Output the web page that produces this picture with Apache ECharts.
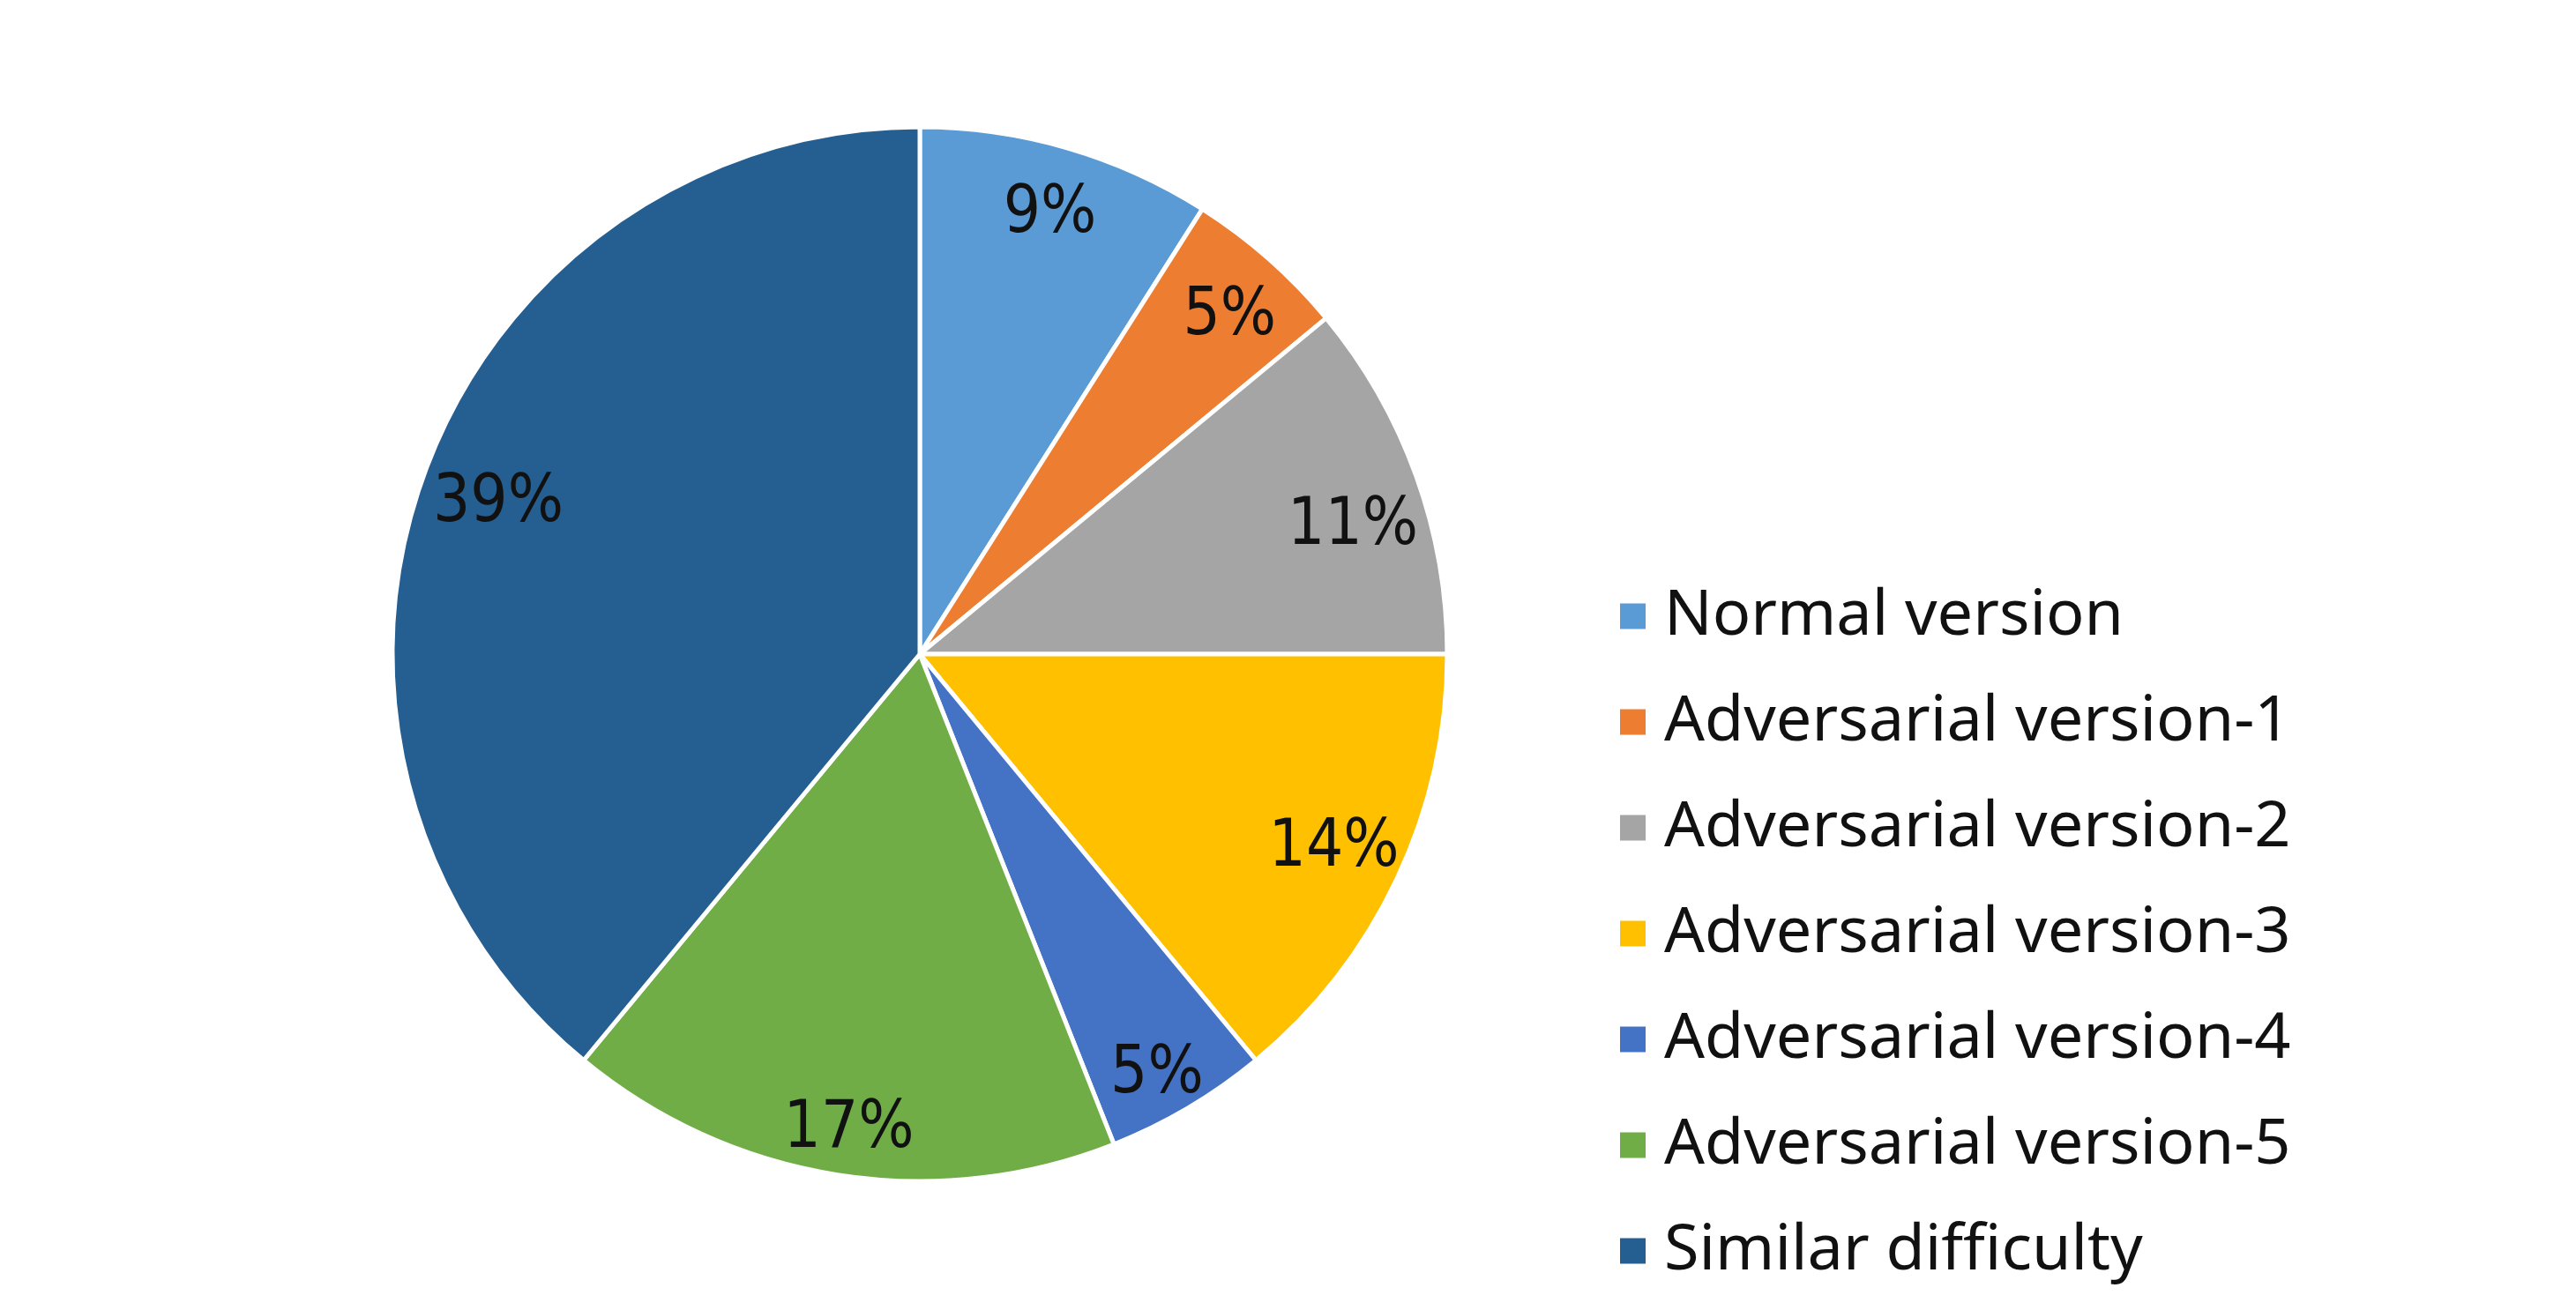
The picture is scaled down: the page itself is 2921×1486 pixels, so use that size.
<!DOCTYPE html>
<html>
<head>
<meta charset="utf-8">
<style>
  * { margin: 0; padding: 0; }
  body { background: #ffffff; }
  #chart { width: 2921px; height: 1486px; }
</style>
</head>
<body>
<div id="chart"></div>
<script src="https://cdn.jsdelivr.net/npm/echarts@6/dist/echarts.min.js"></script>
<script>
// categories and shares (%)
var names = [
  'Normal version',
  'Adversarial version-1',
  'Adversarial version-2',
  'Adversarial version-3',
  'Adversarial version-4',
  'Adversarial version-5',
  'Similar difficulty'
];
var shares = [9, 5, 11, 14, 5, 17, 39];
var colors = ['#5B9BD5', '#ED7D31', '#A5A5A5', '#FFC000', '#4472C4', '#70AD47', '#255E91'];

// small label nudges so they sit where the original's "best fit" put them
var labelNudge = [[4, -4], [11, 4], [7, 30], [4, 2], [7, 35], [0, 32], [6, 4]];

var pieData = names.map(function (n, i) {
  return { name: n, value: shares[i] };
});
var labelData = names.map(function (n, i) {
  return { name: n, value: shares[i], label: { offset: labelNudge[i] } };
});

var chart = echarts.init(document.getElementById('chart'));

var option = {
  backgroundColor: '#ffffff',
  animation: false,
  color: colors,
  legend: {
    orient: 'vertical',
    left: 1832,
    top: 654,
    icon: 'rect',
    itemWidth: 29,
    itemHeight: 29,
    itemGap: 40,
    selectedMode: false,
    data: names,
    itemStyle: { borderWidth: 0 },
    textStyle: {
      fontFamily: "'Noto Sans', sans-serif",
      fontSize: 72,
      lineHeight: 80,
      color: '#111111',
      padding: [0, 0, 0, 16]
    }
  },
  series: [
    {
      // the coloured slices
      name: 'share',
      type: 'pie',
      center: [1043, 742],
      radius: [0, 598],
      startAngle: 90,
      clockwise: true,
      silent: true,
      data: pieData,
      itemStyle: { borderColor: '#ffffff', borderWidth: 5 },
      label: { show: false },
      labelLine: { show: false }
    },
    {
      // transparent ring, only used to place the % labels near the rim
      name: 'labels',
      type: 'pie',
      center: [1043, 742],
      radius: [425, 598],
      startAngle: 90,
      clockwise: true,
      silent: true,
      data: labelData,
      itemStyle: { color: 'rgba(0,0,0,0)', borderWidth: 0 },
      label: {
        show: true,
        position: 'inside',
        formatter: '{c}%',
        fontFamily: "'Liberation Sans Narrow', 'DejaVu Sans Condensed', 'Noto Sans', sans-serif",
        fontSize: 74,
        color: '#111111'
      },
      labelLine: { show: false }
    }
  ]
};

chart.setOption(option);
</script>
</body>
</html>
